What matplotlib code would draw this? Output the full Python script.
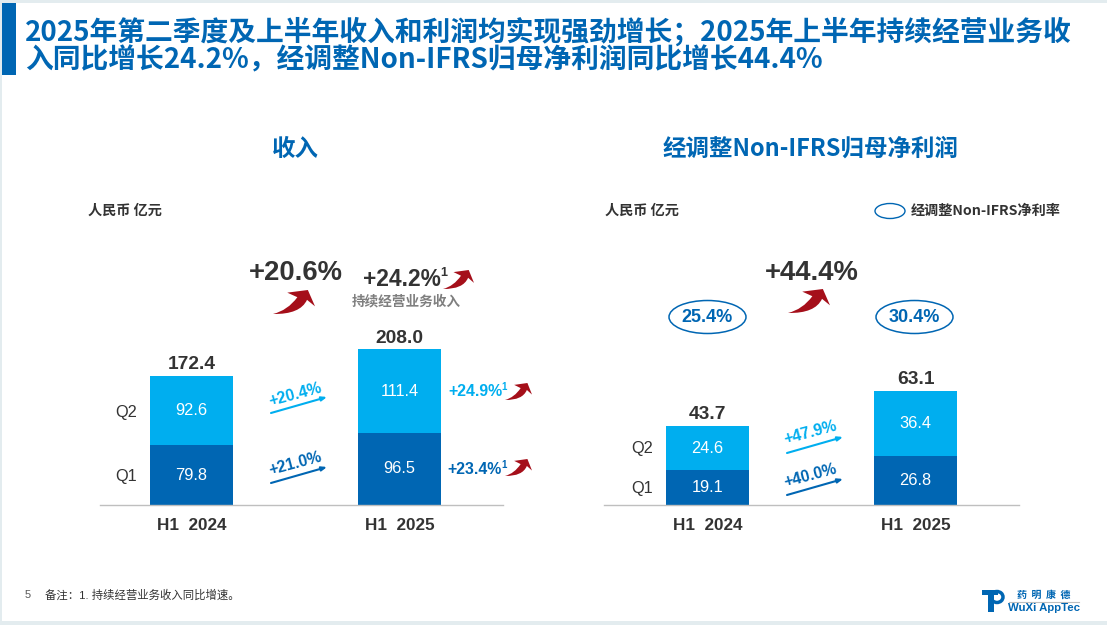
import matplotlib
matplotlib.use("Agg")
import matplotlib.pyplot as plt
from matplotlib.patches import Ellipse, PathPatch, Rectangle
from matplotlib.path import Path

plt.rcParams['font.family'] = ['Liberation Sans', 'Noto Sans CJK SC']

# chart values
periods = ["H1  2024", "H1  2025"]
rev_q1 = [79.8, 96.5]
rev_q2 = [92.6, 111.4]
rev_total = [172.4, 208.0]
profit_q1 = [19.1, 26.8]
profit_q2 = [24.6, 36.4]
profit_total = [43.7, 63.1]
margins = ["25.4%", "30.4%"]

DARK = "#0066B3"
LIGHT = "#00AEEF"
TEXT = "#333333"
RED = "#A50F1A"
CJK = ['Noto Sans CJK SC', 'Liberation Sans']

W, H = 1107, 625
fig = plt.figure(figsize=(W / 100, H / 100), dpi=100, facecolor="white")


def bar_panel(left, right, first_center, px_per_unit, q1, q2, totals):
    # axes sits on the baseline, 208 px between the two bars
    ax = fig.add_axes([left / W, 1 - 505 / H, (right - left) / W, 200 / H])
    ax.set_xlim((left - first_center) / 208, (right - first_center) / 208)
    ax.set_ylim(0, 200 / px_per_unit)
    ax.patch.set_alpha(0)
    b1 = ax.bar([0, 1], q1, width=83 / 208, color=DARK)
    b2 = ax.bar([0, 1], q2, width=83 / 208, bottom=q1, color=LIGHT)
    ax.bar_label(b1, labels=[f"{v:.1f}" for v in q1], label_type="center", color="white", fontsize=11.8)
    ax.bar_label(b2, labels=[f"{v:.1f}" for v in q2], label_type="center", color="white", fontsize=11.8)
    ax.bar_label(b2, labels=[f"{v:.1f}" for v in totals], padding=2, color=TEXT, fontsize=13.8, fontweight="bold")
    for s in ["top", "left", "right"]:
        ax.spines[s].set_visible(False)
    ax.spines["bottom"].set_color("#BFBFBF")
    ax.spines["bottom"].set_linewidth(1)
    ax.set_yticks([])
    ax.set_xticks([0, 1])
    ax.set_xticklabels(periods, fontsize=12.3, fontweight="bold", color=TEXT)
    ax.tick_params(axis="x", length=0, pad=9)
    return ax


bar_panel(100, 503, 191.5, 0.748, rev_q1, rev_q2, rev_total)
bar_panel(604, 1019, 707.5, 1.81, profit_q1, profit_q2, profit_total)

# overlay in slide pixels for the annotations
ov = fig.add_axes([0, 0, 1, 1])
ov.set_xlim(0, W)
ov.set_ylim(H, 0)
ov.axis("off")
ov.patch.set_alpha(0)

# slide edge and title bar
ov.add_patch(Rectangle((0, 0), W, 3, color="#E3ECEF", lw=0))
ov.add_patch(Rectangle((0, 0), 2, H, color="#E3ECEF", lw=0))
ov.add_patch(Rectangle((0, 621), W, 4, color="#E3ECEF", lw=0))
ov.add_patch(Rectangle((2, 3), 14, 72, color=DARK, lw=0))

ov.text(25, 32, "2025年第二季度及上半年收入和利润均实现强劲增长；2025年上半年持续经营业务收", family=CJK,
        fontsize=20, fontweight="bold", color=DARK, va="center")
ov.text(25, 60, "入同比增长24.2%，经调整Non-IFRS归母净利润同比增长44.4%", family=CJK,
        fontsize=20, fontweight="bold", color=DARK, va="center")

ov.text(295, 149, "收入", family=CJK, fontsize=16.9, fontweight="bold", color=DARK, ha="center", va="center")
ov.text(811, 149, "经调整Non-IFRS归母净利润", family=CJK, fontsize=16.9, fontweight="bold", color=DARK, ha="center", va="center")
ov.text(88, 211, "人民币 亿元", family=CJK, fontsize=10.2, fontweight="bold", color=TEXT, va="center")
ov.text(605, 211, "人民币 亿元", family=CJK, fontsize=10.2, fontweight="bold", color=TEXT, va="center")

# legend
ov.add_patch(Ellipse((890, 211), 30, 15, fc="none", ec=DARK, lw=1))
ov.text(911, 211, "经调整Non-IFRS净利率", family=CJK, fontsize=10.2, fontweight="bold", color=TEXT, va="center")


def red_arrow(x, y, w, h):
    pts = [(0, 1), (0.35, 0.85), (0.58, 0.3), (0.34, 0.11), (0.83, 0), (1, 0.68),
           (0.81, 0.41), (0.65, 1.02), (0, 1), (0, 1)]
    codes = [Path.MOVETO, Path.CURVE3, Path.CURVE3, Path.LINETO, Path.LINETO, Path.LINETO,
             Path.LINETO, Path.CURVE3, Path.CURVE3, Path.CLOSEPOLY]
    verts = [(x + px * w, y + py * h) for px, py in pts]
    ov.add_patch(PathPatch(Path(verts, codes), fc=RED, ec="none"))


def thin_arrow(x0, y0, x1, y1, color):
    ov.annotate("", xy=(x1, y1), xytext=(x0, y0),
                arrowprops=dict(arrowstyle="-|>,head_length=0.3,head_width=0.12", color=color, lw=1.5,
                                shrinkA=0, shrinkB=0))


# headline growth
ov.text(296, 273, "+20.6%", fontsize=19.8, fontweight="bold", color=TEXT, ha="center", va="center")
red_arrow(273, 290, 42, 24)
ov.text(402, 280, "+24.2%", fontsize=16.4, fontweight="bold", color=TEXT, ha="center", va="center")
ov.text(444, 273, "1", fontsize=9, fontweight="bold", color=TEXT, ha="center", va="center")
red_arrow(443, 270, 31, 19)
ov.text(406, 301, "持续经营业务收入", family=CJK, fontsize=9.8, fontweight="bold", color="#7F7F7F", ha="center", va="center")
ov.text(812, 273, "+44.4%", fontsize=19.8, fontweight="bold", color=TEXT, ha="center", va="center")
red_arrow(788, 289, 42, 24)

# margin ellipses
for cx, label in zip([707.5, 914.5], margins):
    ov.add_patch(Ellipse((cx, 317), 77, 33, fc="none", ec=DARK, lw=1.1))
    ov.text(cx, 318, label, fontsize=13, fontweight="bold", color=DARK, ha="center", va="center")

# quarter names
for x, y, s in [(126, 412, "Q2"), (126, 476, "Q1"), (642, 449, "Q2"), (642, 488, "Q1")]:
    ov.text(x, y, s, fontsize=11.8, color=TEXT, ha="center", va="center")

# quarter growth arrows
for x0, y0, x1, y1, color in [(271, 413, 327, 397, LIGHT), (271, 483, 327, 467, DARK),
                              (787, 453, 843, 437, LIGHT), (787, 495, 843, 479, DARK)]:
    thin_arrow(x0, y0, x1, y1, color)
for x, y, s, color in [(295, 395, "+20.4%", LIGHT), (295, 464, "+21.0%", DARK),
                       (810, 433, "+47.9%", LIGHT), (810, 476, "+40.0%", DARK)]:
    ov.text(x, y, s, fontsize=11.4, fontweight="bold", color=color, ha="center", va="center",
            rotation=15, rotation_mode="anchor")

for y, s, color in [(391, "+24.9%", LIGHT), (469, "+23.4%", DARK)]:
    ov.text(475, y, s, fontsize=11.4, fontweight="bold", color=color, ha="center", va="center")
    ov.text(504, y - 4, "1", fontsize=7, fontweight="bold", color=color, ha="center", va="center")
red_arrow(505, 383, 27, 17)
red_arrow(505, 459, 27, 17)

# footer
ov.text(28, 595, "5", fontsize=8, color="#595959", ha="center", va="center")
ov.text(45, 595, "备注：1. 持续经营业务收入同比增速。", fontsize=8.2, color=TEXT, va="center")

# logo
ov.add_patch(Rectangle((982, 590), 16, 5, color=DARK, lw=0))
ov.add_patch(Rectangle((988, 590), 6, 22, color=DARK, lw=0))
ov.add_patch(Ellipse((997, 597), 12, 11, fc="none", ec=DARK, lw=2.5))
ov.text(1044, 595, "药  明  康  德", family=CJK, fontsize=7.2, fontweight="bold", color=DARK, ha="center", va="center")
ov.plot([1009, 1079], [602, 602], color="#BFBFBF", lw=0.8)
ov.text(1044, 608, "WuXi AppTec", fontsize=8.2, fontweight="bold", color=DARK, ha="center", va="center")

fig.savefig("out.png", dpi=100)
